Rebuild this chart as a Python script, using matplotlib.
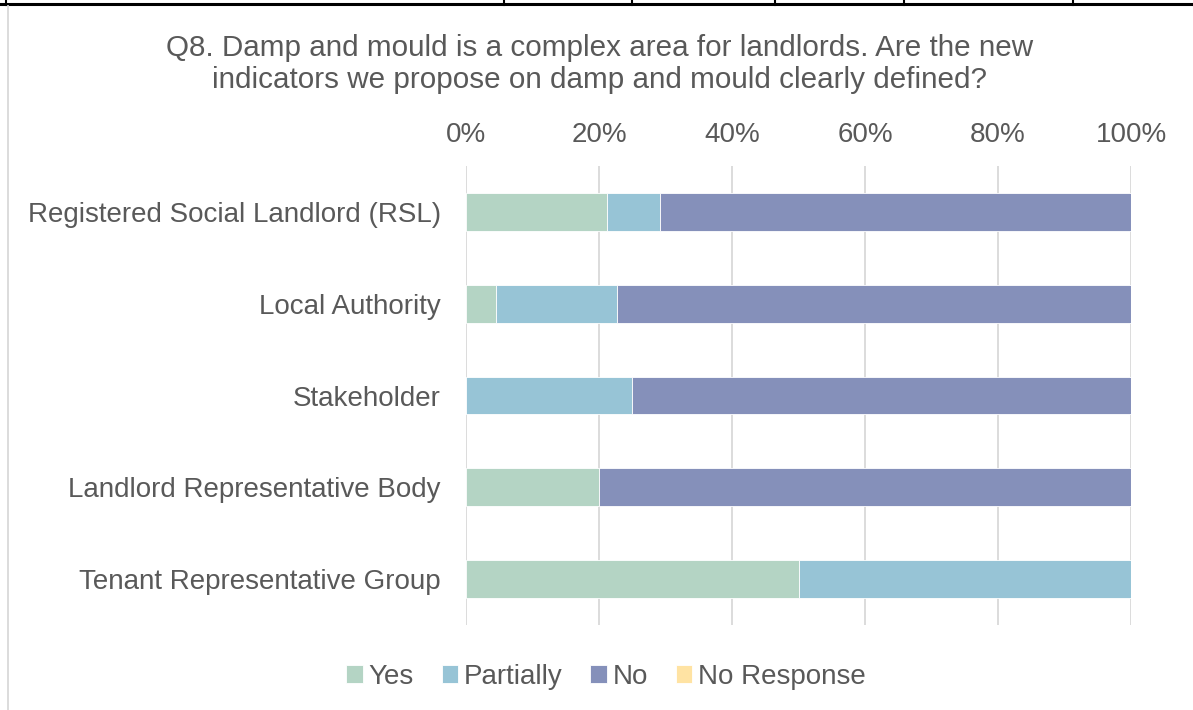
"""Horizontal 100% stacked bar chart of Q8 responses by respondent type."""

import matplotlib

matplotlib.use("Agg")
import matplotlib.pyplot as plt  # noqa: E402
from matplotlib.lines import Line2D  # noqa: E402
from matplotlib.ticker import FuncFormatter, MultipleLocator  # noqa: E402

plt.rcParams["font.family"] = ["Liberation Sans", "DejaVu Sans"]

CATEGORIES = [
    "Registered Social Landlord (RSL)",
    "Local Authority",
    "Stakeholder",
    "Landlord Representative Body",
    "Tenant Representative Group",
]
YES = [21.2, 4.5, 0.0, 20.0, 50.0]
PARTIALLY = [7.9, 18.2, 25.0, 0.0, 50.0]
NO = [70.9, 77.3, 75.0, 80.0, 0.0]
NO_RESPONSE = [0.0, 0.0, 0.0, 0.0, 0.0]

SERIES = ["Yes", "Partially", "No", "No Response"]
COLORS = ["#b4d4c4", "#97c4d6", "#8590ba", "#ffe3a3"]
TEXT = "#595959"

TITLE = ("Q8. Damp and mould is a complex area for landlords. Are the new\n"
         "indicators we propose on damp and mould clearly defined?")

fig = plt.figure(figsize=(11.93, 7.10), dpi=100)
ax = fig.add_axes([466 / 1193, (710 - 625) / 710, 665 / 1193, 459 / 710])

y = list(range(len(CATEGORIES)))
left = [0.0] * len(CATEGORIES)
for name, vals, col in zip(SERIES, [YES, PARTIALLY, NO, NO_RESPONSE], COLORS):
    ax.barh(y, vals, left=left, height=0.41, color=col, edgecolor="white",
            linewidth=0.6, label=name, zorder=3)
    left = [l + v for l, v in zip(left, vals)]

ax.set_xlim(0, 100)
ax.set_ylim(len(CATEGORIES) - 0.5, -0.5)
ax.xaxis.set_major_locator(MultipleLocator(20))
ax.xaxis.set_major_formatter(FuncFormatter(lambda v, _: f"{v:.0f}%"))
ax.xaxis.tick_top()
ax.set_yticks(y)
ax.set_yticklabels(CATEGORIES)
ax.tick_params(axis="both", length=0, colors=TEXT, labelsize=20)
ax.tick_params(axis="x", pad=13)
ax.tick_params(axis="y", pad=18)
ax.xaxis.grid(True, color="#d9d9d9", linewidth=1.3, zorder=0)
for s in ax.spines.values():
    s.set_visible(False)

fig.text(600 / 1193, 1 - 64 / 710, TITLE, ha="center", va="center",
         fontsize=21.3, color=TEXT, linespacing=1.2)

ax.legend(loc="center", bbox_to_anchor=(606 / 1193, 1 - 677 / 710),
          bbox_transform=fig.transFigure, ncol=4, frameon=False,
          fontsize=20, labelcolor=TEXT, handlelength=0.6, handleheight=0.6,
          handletextpad=0.2, columnspacing=1.0)

# Frame remnants: heavy rule across the top with short dividers, faint left edge
fig.add_artist(Line2D([0, 1], [1 - 4 / 710, 1 - 4 / 710], color="black",
                      linewidth=2.2, transform=fig.transFigure))
for px in [6, 504, 632, 775, 904, 1073]:
    fig.add_artist(Line2D([px / 1193, px / 1193], [1, 1 - 5 / 710],
                          color="black", linewidth=1.5,
                          transform=fig.transFigure))
fig.add_artist(Line2D([8 / 1193, 8 / 1193], [0, 1 - 6 / 710], color="#d9d9d9",
                      linewidth=1.3, transform=fig.transFigure))

fig.savefig("out.png", dpi=100, facecolor="white")
